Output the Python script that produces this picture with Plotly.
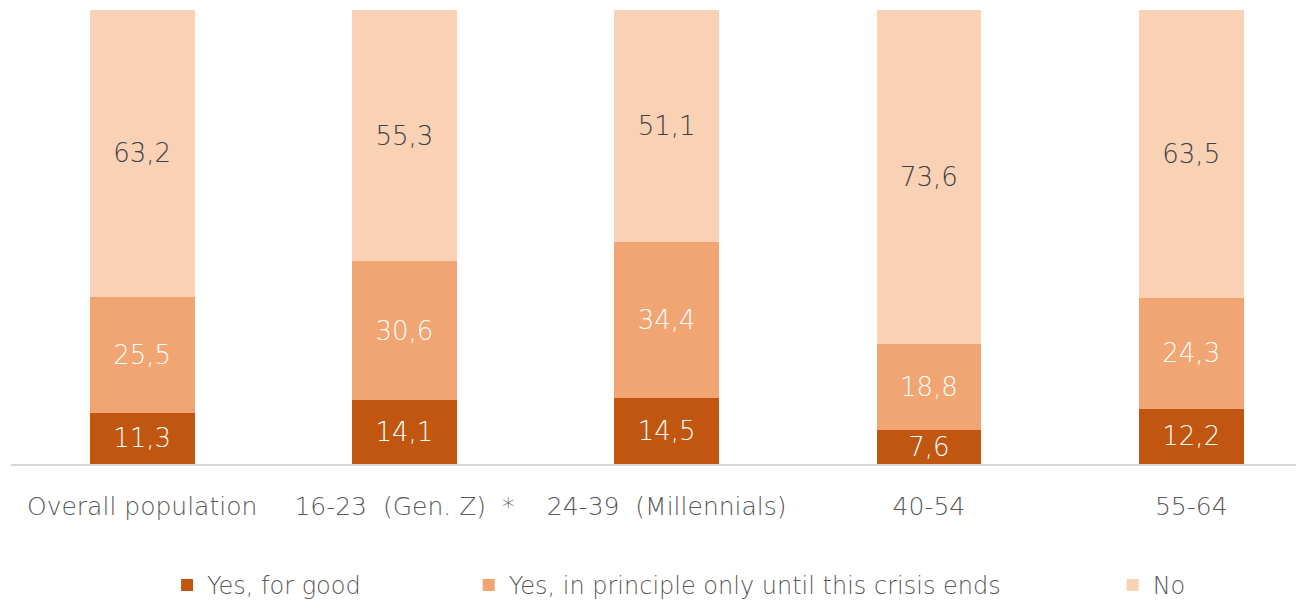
import plotly.graph_objects as go

categories = ["Overall population", "16-23  (Gen. Z)  *", "24-39  (Millennials)", "40-54", "55-64"]
series_names = ["Yes, for good", "Yes, in principle only until this crisis ends", "No"]
yes_for_good = [11.3, 14.1, 14.5, 7.6, 12.2]
yes_until_crisis = [25.5, 30.6, 34.4, 18.8, 24.3]
no_values = [63.2, 55.3, 51.1, 73.6, 63.5]

colors = ["#C0560F", "#F1A572", "#F9D1B4"]
label_colors = ["#FFFFFF", "#FFFFFF", "#404040"]
legend_ids = ["legend", "legend2", "legend3"]
legend_x = [0.1207, 0.354, 0.852]

FONT = "DejaVu Sans"
WEIGHT = 200

fig = go.Figure()
for i, (name, vals) in enumerate(zip(series_names, [yes_for_good, yes_until_crisis, no_values])):
    fig.add_trace(go.Bar(
        x=list(range(len(categories))),
        y=vals,
        name=name,
        marker=dict(color=colors[i], line=dict(width=0)),
        width=0.4,
        text=[f"{v:.1f}".replace(".", ",") for v in vals],
        textposition="inside",
        insidetextanchor="middle",
        textfont=dict(color=label_colors[i], size=26, family=FONT, weight=WEIGHT),
        legend=legend_ids[i],
        showlegend=True,
        hoverinfo="skip",
    ))

fig.update_layout(
    barmode="stack",
    width=1296, height=593,
    margin=dict(l=3, r=0, t=2, b=137, autoexpand=False),
    paper_bgcolor="white", plot_bgcolor="white",
    font=dict(family=FONT, color="#595959", size=25, weight=WEIGHT),
    uniformtext=dict(minsize=26, mode="show"),
    showlegend=True,
    xaxis=dict(
        tickmode="array",
        tickvals=list(range(len(categories))),
        ticktext=categories,
        range=[-0.5, 4.43],
        showgrid=False, zeroline=False,
        showline=True, linecolor="#D9D9D9", linewidth=2,
        ticks="", ticklabelstandoff=19,
        tickfont=dict(size=25, color="#595959", family=FONT, weight=WEIGHT),
    ),
    yaxis=dict(range=[0, 100], visible=False, showgrid=False, zeroline=False),
)

for lid, lx in zip(legend_ids, legend_x):
    fig.update_layout({lid: dict(
        orientation="h", x=lx, y=-0.2176, xanchor="left", yanchor="top",
        xref="paper", yref="paper", visible=True,
        font=dict(size=24, color="#595959", family=FONT, weight=WEIGHT),
        bgcolor="rgba(0,0,0,0)", itemwidth=30,
    )})

fig.write_html("out.html")
